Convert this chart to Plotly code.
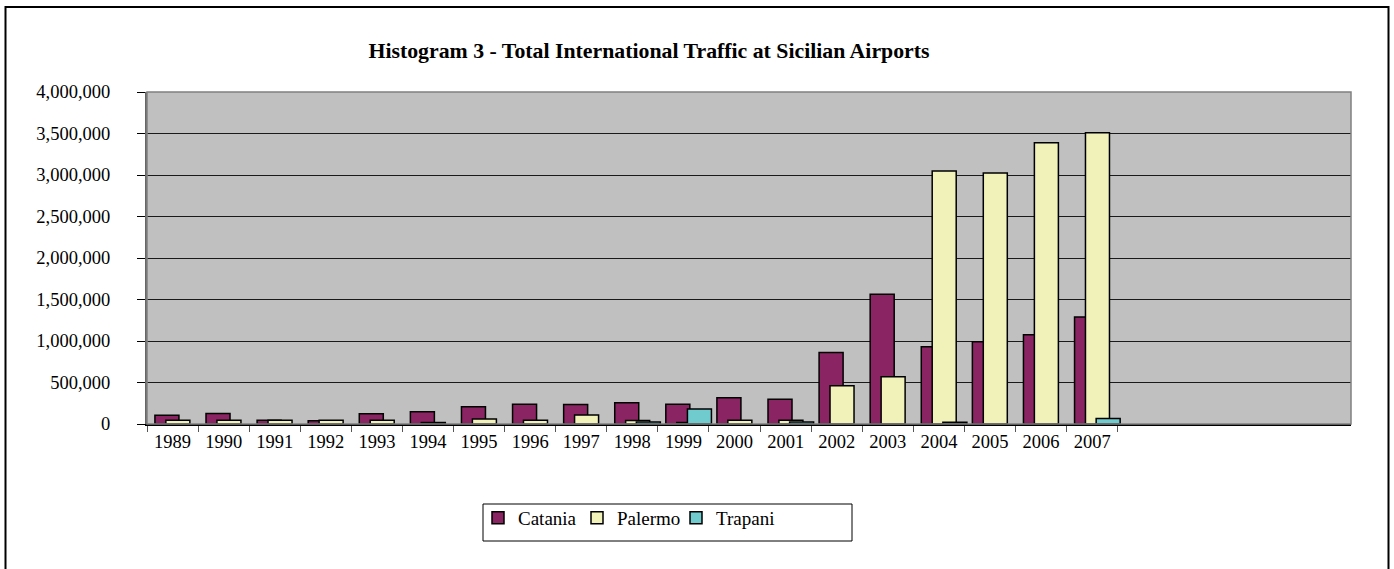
import plotly.graph_objects as go

years = [str(y) for y in range(1989, 2008)]
catania = [105000, 128000, 45000, 40000, 125000, 148000, 208000, 237000, 236000, 257000,
           237000, 317000, 297000, 862000, 1562000, 931000, 992000, 1076000, 1289000]
palermo = [45000, 45000, 45000, 45000, 45000, 18000, 60000, 45000, 108000, 42000,
           18000, 45000, 45000, 460000, 570000, 3048000, 3024000, 3390000, 3510000]
trapani = [None, None, None, None, None, None, None, None, None, 25000,
           180000, None, 25000, None, None, 20000, None, None, 65000]

series_names = ["Catania", "Palermo", "Trapani"]
series_colors = ["#8B2462", "#F1F1BA", "#6FCBCE"]
series_offsets = [-0.345, -0.131, 0.078]
bar_width = 0.47

FONT = "Liberation Serif"
Y_RANGE = [0, 4000000]
Y_STEP = 500000

fig = go.Figure()
for name, vals, col, off in zip(series_names, [catania, palermo, trapani], series_colors, series_offsets):
    fig.add_trace(go.Bar(
        x=years, y=vals, name=name, width=bar_width, offset=off,
        marker=dict(color=col, line=dict(color="black", width=1.5)),
    ))

W, H = 1394, 569
L, R, T, B = 147, 43, 92, 145
pw, ph = W - L - R, H - T - B

def px_x(x):
    return (x - L) / pw

def px_y(y):
    return (H - B - y) / ph

fig.update_layout(
    width=W, height=H,
    margin=dict(l=L, r=R, t=T, b=B, pad=0),
    barmode="overlay",
    paper_bgcolor="white",
    plot_bgcolor="#C0C0C0",
    font=dict(family=FONT, size=18, color="black"),
    title=dict(
        text="<b>Histogram 3 - Total International Traffic at Sicilian Airports</b>",
        x=649 / W, xanchor="center", xref="container",
        y=1 - 50 / H, yanchor="middle", yref="container",
        font=dict(family=FONT, size=21.8, color="black"),
    ),
    xaxis=dict(
        type="category",
        range=[-0.5, -0.5 + pw / 51.09],
        tickson="boundaries",
        ticks="outside", ticklen=6, tickcolor="#555", tickwidth=1,
        showline=True, linecolor="black", linewidth=1.5,
        showgrid=False, zeroline=False,
        tickfont=dict(family=FONT, size=18.5, color="black"),
    ),
    yaxis=dict(
        range=Y_RANGE, dtick=Y_STEP, tickformat=",",
        ticks="outside", ticklen=8, tickcolor="black", tickwidth=1,
        ticklabelstandoff=23,
        showline=True, linecolor="#666", linewidth=2,
        showgrid=True, gridcolor="#1a1a1a", gridwidth=1,
        zeroline=False, automargin=False,
        tickfont=dict(family=FONT, size=18.5, color="black"),
    ),
    showlegend=True,
    legend=dict(
        orientation="h",
        x=px_x(478), xanchor="left",
        y=px_y(499), yanchor="top",
        bgcolor="rgba(0,0,0,0)",
        borderwidth=0,
        font=dict(family=FONT, size=19, color="black"),
        traceorder="normal",
        entrywidth=54, entrywidthmode="pixels",
        itemwidth=30,
    ),
    shapes=[
        dict(type="rect", xref="paper", yref="paper", x0=0, x1=1, y0=0, y1=1,
             line=dict(color="#808080", width=1.5), layer="above"),
        dict(type="rect", xref="paper", yref="paper",
             x0=px_x(483), x1=px_x(852), y0=px_y(541), y1=px_y(504),
             line=dict(color="black", width=1)),
        dict(type="rect", xref="paper", yref="paper",
             x0=px_x(5.5), x1=px_x(1388.5), y0=px_y(580), y1=px_y(7),
             line=dict(color="black", width=2)),
    ],
)

fig.write_html("out.html")
